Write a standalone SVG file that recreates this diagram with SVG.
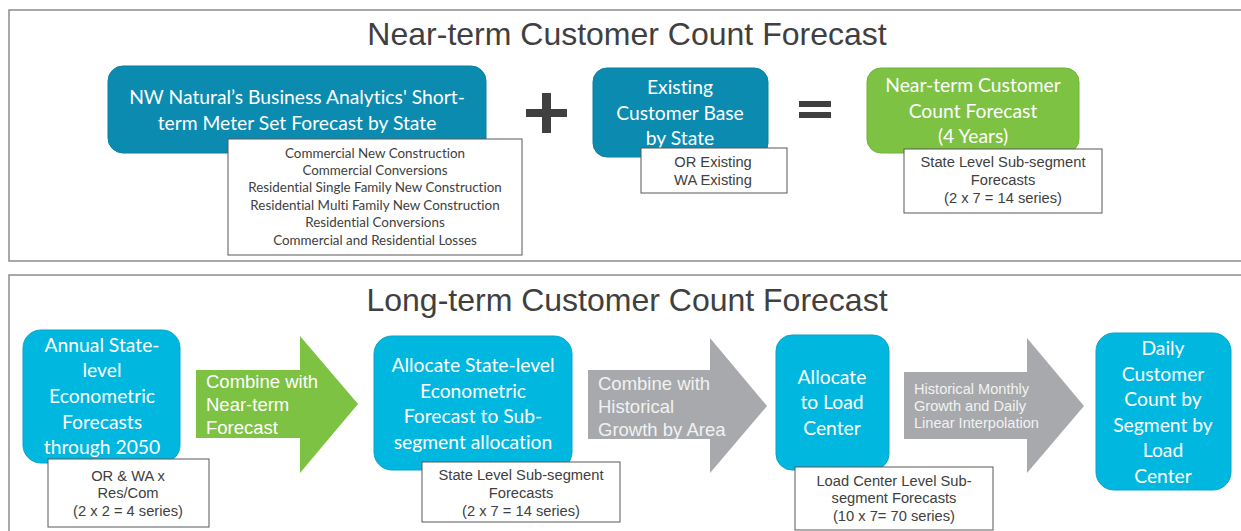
<svg xmlns="http://www.w3.org/2000/svg" width="1241" height="531" viewBox="0 0 1241 531">
<style>
.panel{fill:#fff;stroke:#8c8c8c;stroke-width:1.5}
.title{font-family:"Liberation Sans",Arial,sans-serif;font-size:32px;fill:#404040;text-anchor:middle}
.teal{fill:#0A8BAF;stroke:#0a7f9f;stroke-width:1}
.green{fill:#7DC242;stroke:#70b23a;stroke-width:1}
.cyan{fill:#00B7E0;stroke:#0aa3c8;stroke-width:1}
.note{fill:#fff;stroke:#595959;stroke-width:1}
.bt{font-family:Lato,"Open Sans",sans-serif;font-size:19.3px;fill:#fff;text-anchor:middle;font-variant-ligatures:none}
.nt{font-family:Lato,"Open Sans",sans-serif;font-size:13.4px;fill:#404040;text-anchor:middle;font-variant-ligatures:none}
.at{font-family:"Liberation Sans",Arial,sans-serif;font-size:14.7px;fill:#404040;text-anchor:middle}
.arr{font-family:"Liberation Sans",Arial,sans-serif;font-size:18.5px;fill:#fff}
.arrg{font-family:"Liberation Sans",Arial,sans-serif;font-size:18.5px;fill:#f2f2f2}
.arrs{font-family:"Liberation Sans",Arial,sans-serif;font-size:14.6px;fill:#f2f2f2}
.sign{fill:#404040}
</style>
<rect width="1241" height="531" fill="#fff"/>
<g id="panel-near">
<rect class="panel" x="9" y="10" width="1240" height="251"/>
<text class="title" x="627" y="45">Near-term Customer Count Forecast</text>
</g>
<g id="panel-long">
<rect class="panel" x="9" y="275" width="1240" height="270"/>
<text class="title" x="627" y="311">Long-term Customer Count Forecast</text>
</g>

<g id="n-shortterm">
<rect class="teal" x="108" y="66" width="378" height="87" rx="15"/>
<text class="bt" x="297" y="104">NW Natural’s Business Analytics' Short-</text>
<text class="bt" x="297" y="130">term Meter Set Forecast by State</text>
<rect class="note" x="228" y="139" width="294" height="116"/>
<text class="nt" x="375" y="158">Commercial New Construction</text>
<text class="nt" x="375" y="175">Commercial Conversions</text>
<text class="nt" x="375" y="192">Residential Single Family New Construction</text>
<text class="nt" x="375" y="210">Residential Multi Family New Construction</text>
<text class="nt" x="375" y="227">Residential Conversions</text>
<text class="nt" x="375" y="245">Commercial and Residential Losses</text>
</g>

<g id="plus">
<rect class="sign" x="542" y="93" width="9" height="40"/>
<rect class="sign" x="526" y="109" width="41" height="8"/>
</g>

<g id="n-existing">
<rect class="teal" x="593" y="68" width="175" height="89" rx="14"/>
<text class="bt" x="680" y="94">Existing</text>
<text class="bt" x="680" y="120">Customer Base</text>
<text class="bt" x="680" y="145">by State</text>
<rect class="note" x="641" y="148" width="146" height="45"/>
<text class="at" x="713" y="167">OR Existing</text>
<text class="at" x="713" y="185">WA Existing</text>
</g>

<g id="equals">
<rect class="sign" x="799" y="101" width="32" height="6"/>
<rect class="sign" x="799" y="112" width="32" height="6"/>
</g>

<g id="n-nearterm">
<rect class="green" x="867" y="68" width="212" height="85" rx="14"/>
<text class="bt" x="973" y="92">Near-term Customer</text>
<text class="bt" x="973" y="118">Count Forecast</text>
<text class="bt" x="973" y="143">(4 Years)</text>
<rect class="note" x="904" y="149" width="198" height="64"/>
<text class="at" x="1003" y="167">State Level Sub-segment</text>
<text class="at" x="1003" y="185">Forecasts</text>
<text class="at" x="1003" y="203">(2 x 7 = 14 series)</text>
</g>

<g id="n-annual">
<rect class="cyan" x="23" y="330" width="157" height="133" rx="18"/>
<text class="bt" x="102" y="352">Annual State-</text>
<text class="bt" x="102" y="377">level</text>
<text class="bt" x="102" y="403">Econometric</text>
<text class="bt" x="102" y="429">Forecasts</text>
<text class="bt" x="102" y="454">through 2050</text>
<rect class="note" x="48" y="459" width="161" height="68"/>
<text class="at" x="128" y="481">OR &amp; WA x</text>
<text class="at" x="128" y="498">Res/Com</text>
<text class="at" x="128" y="516">(2 x 2 = 4 series)</text>
</g>

<g id="n-allocstate">
<rect class="cyan" x="374" y="336" width="198" height="134" rx="18"/>
<text class="bt" x="473" y="372">Allocate State-level</text>
<text class="bt" x="473" y="398">Econometric</text>
<text class="bt" x="473" y="423">Forecast to Sub-</text>
<text class="bt" x="473" y="449">segment allocation</text>
<rect class="note" x="422" y="462" width="198" height="60"/>
<text class="at" x="521" y="480">State Level Sub-segment</text>
<text class="at" x="521" y="498">Forecasts</text>
<text class="at" x="521" y="516">(2 x 7 = 14 series)</text>
</g>

<g id="n-loadcenter">
<rect class="cyan" x="776" y="335" width="113" height="135" rx="16"/>
<text class="bt" x="832" y="384">Allocate</text>
<text class="bt" x="832" y="409">to Load</text>
<text class="bt" x="832" y="435">Center</text>
<rect class="note" x="795" y="467" width="198" height="63"/>
<text class="at" x="894" y="486">Load Center Level Sub-</text>
<text class="at" x="894" y="503">segment Forecasts</text>
<text class="at" x="894" y="521">(10 x 7= 70 series)</text>
</g>

<g id="n-daily">
<rect class="cyan" x="1096" y="333" width="135" height="157" rx="18"/>
<text class="bt" x="1163" y="355">Daily</text>
<text class="bt" x="1163" y="381">Customer</text>
<text class="bt" x="1163" y="406">Count by</text>
<text class="bt" x="1163" y="432">Segment by</text>
<text class="bt" x="1163" y="457">Load</text>
<text class="bt" x="1163" y="483">Center</text>
</g>

<g id="connectors">
<polygon fill="#7DC242" points="196,370 300,370 300,336 358,404 300,473 300,438 196,438"/>
<text class="arr" x="206" y="388">Combine with</text>
<text class="arr" x="206" y="411">Near-term</text>
<text class="arr" x="206" y="434">Forecast</text>
<polygon fill="#A7A9AC" points="588,370 710,370 710,338 767,406 710,473 710,439 588,439"/>
<text class="arrg" x="598" y="390">Combine with</text>
<text class="arrg" x="598" y="413">Historical</text>
<text class="arrg" x="598" y="436">Growth by Area</text>
<polygon fill="#A7A9AC" points="904,372 1027,372 1027,338 1084,406 1027,473 1027,439 904,439"/>
<text class="arrs" x="914" y="394">Historical Monthly</text>
<text class="arrs" x="914" y="411">Growth and Daily</text>
<text class="arrs" x="914" y="428">Linear Interpolation</text>
</g>
</svg>
